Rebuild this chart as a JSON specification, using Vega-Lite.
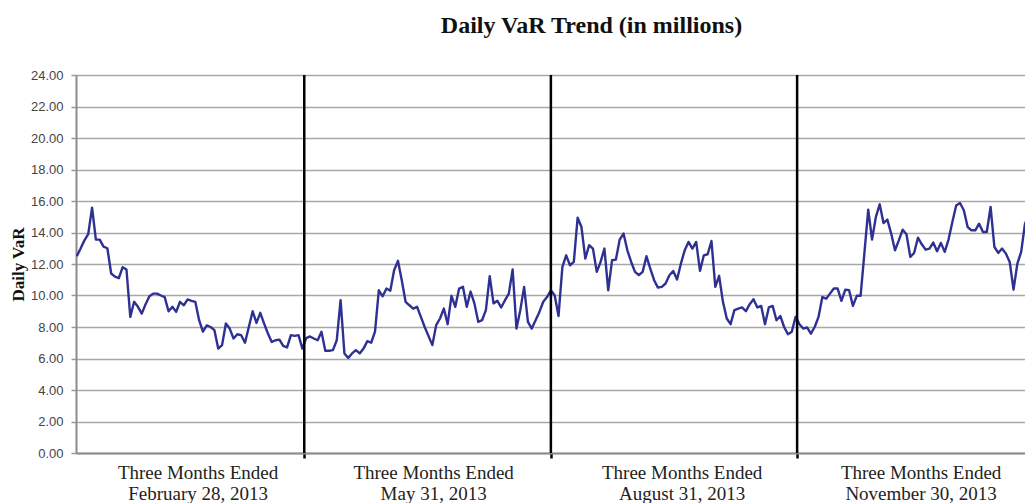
{
  "$schema": "https://vega.github.io/schema/vega-lite/v6.json",
  "autosize": {"type": "none"},
  "padding": {"left": 76, "top": 75, "right": 0, "bottom": 50},
  "width": 949,
  "height": 378,
  "background": "white",
  "title": {
    "text": "Daily VaR Trend (in millions)",
    "font": "Liberation Serif",
    "fontSize": 24,
    "fontWeight": "bold",
    "color": "#111111",
    "dx": 41,
    "offset": 31
  },
  "config": {"view": {"stroke": null}},
  "datasets": {
    "var": [
      {"day":1,"v":12.5},{"day":2,"v":12.98},{"day":3,"v":13.5},{"day":4,"v":13.9},{"day":5,"v":15.58},{"day":6,"v":13.55},{"day":7,"v":13.55},{"day":8,"v":13.1},{"day":9,"v":13.0},{"day":10,"v":11.4},
      {"day":11,"v":11.2},{"day":12,"v":11.1},{"day":13,"v":11.8},{"day":14,"v":11.65},{"day":15,"v":8.64},{"day":16,"v":9.6},{"day":17,"v":9.28},{"day":18,"v":8.85},{"day":19,"v":9.45},{"day":20,"v":9.95},
      {"day":21,"v":10.12},{"day":22,"v":10.12},{"day":23,"v":10.0},{"day":24,"v":9.9},{"day":25,"v":9.0},{"day":26,"v":9.28},{"day":27,"v":8.96},{"day":28,"v":9.6},{"day":29,"v":9.38},{"day":30,"v":9.75},
      {"day":31,"v":9.66},{"day":32,"v":9.6},{"day":33,"v":8.43},{"day":34,"v":7.7},{"day":35,"v":8.1},{"day":36,"v":8.0},{"day":37,"v":7.8},{"day":38,"v":6.63},{"day":39,"v":6.85},{"day":40,"v":8.22},
      {"day":41,"v":7.9},{"day":42,"v":7.27},{"day":43,"v":7.54},{"day":44,"v":7.48},{"day":45,"v":7.0},{"day":46,"v":8.0},{"day":47,"v":9.0},{"day":48,"v":8.26},{"day":49,"v":8.9},{"day":50,"v":8.22},
      {"day":51,"v":7.58},{"day":52,"v":7.05},{"day":53,"v":7.16},{"day":54,"v":7.2},{"day":55,"v":6.8},{"day":56,"v":6.7},{"day":57,"v":7.48},{"day":58,"v":7.44},{"day":59,"v":7.48},{"day":60,"v":6.63},
      {"day":61,"v":7.3},{"day":62,"v":7.4},{"day":63,"v":7.27},{"day":64,"v":7.16},{"day":65,"v":7.7},{"day":66,"v":6.49},{"day":67,"v":6.49},{"day":68,"v":6.53},{"day":69,"v":7.16},{"day":70,"v":9.7},
      {"day":71,"v":6.32},{"day":72,"v":6.04},{"day":73,"v":6.32},{"day":74,"v":6.53},{"day":75,"v":6.32},{"day":76,"v":6.63},{"day":77,"v":7.1},{"day":78,"v":7.0},{"day":79,"v":7.7},{"day":80,"v":10.33},
      {"day":81,"v":9.95},{"day":82,"v":10.44},{"day":83,"v":10.3},{"day":84,"v":11.6},{"day":85,"v":12.2},{"day":86,"v":10.97},{"day":87,"v":9.6},{"day":88,"v":9.38},{"day":89,"v":9.17},{"day":90,"v":9.28},
      {"day":91,"v":8.64},{"day":92,"v":8.0},{"day":93,"v":7.42},{"day":94,"v":6.85},{"day":95,"v":8.12},{"day":96,"v":8.54},{"day":97,"v":9.17},{"day":98,"v":8.18},{"day":99,"v":9.98},{"day":100,"v":9.28},
      {"day":101,"v":10.44},{"day":102,"v":10.55},{"day":103,"v":9.28},{"day":104,"v":10.25},{"day":105,"v":9.5},{"day":106,"v":8.33},{"day":107,"v":8.43},{"day":108,"v":9.07},{"day":109,"v":11.22},{"day":110,"v":9.5},
      {"day":111,"v":9.66},{"day":112,"v":9.24},{"day":113,"v":9.7},{"day":114,"v":10.12},{"day":115,"v":11.65},{"day":116,"v":7.9},{"day":117,"v":9.07},{"day":118,"v":10.55},{"day":119,"v":8.33},{"day":120,"v":7.9},
      {"day":121,"v":8.43},{"day":122,"v":8.96},{"day":123,"v":9.6},{"day":124,"v":9.9},{"day":125,"v":10.33},
      {"day":126,"v":10.0},{"day":127,"v":8.7},{"day":128,"v":11.8},{"day":129,"v":12.55},{"day":130,"v":11.92},{"day":131,"v":12.13},{"day":132,"v":14.94},{"day":133,"v":14.35},{"day":134,"v":12.34},{"day":135,"v":13.19},
      {"day":136,"v":12.98},{"day":137,"v":11.5},{"day":138,"v":12.13},{"day":139,"v":12.98},{"day":140,"v":10.33},{"day":141,"v":12.24},{"day":142,"v":12.28},{"day":143,"v":13.55},{"day":144,"v":13.93},{"day":145,"v":12.87},
      {"day":146,"v":12.13},{"day":147,"v":11.5},{"day":148,"v":11.29},{"day":149,"v":11.5},{"day":150,"v":12.49},{"day":151,"v":11.71},{"day":152,"v":10.97},{"day":153,"v":10.5},{"day":154,"v":10.55},{"day":155,"v":10.76},
      {"day":156,"v":11.29},{"day":157,"v":11.56},{"day":158,"v":11.01},{"day":159,"v":12.02},{"day":160,"v":12.87},{"day":161,"v":13.4},{"day":162,"v":12.98},{"day":163,"v":13.4},{"day":164,"v":11.56},{"day":165,"v":12.55},
      {"day":166,"v":12.62},{"day":167,"v":13.46},{"day":168,"v":10.55},{"day":169,"v":11.25},{"day":170,"v":9.6},{"day":171,"v":8.54},{"day":172,"v":8.18},{"day":173,"v":9.07},{"day":174,"v":9.17},{"day":175,"v":9.24},
      {"day":176,"v":9.0},{"day":177,"v":9.45},{"day":178,"v":9.76},{"day":179,"v":9.24},{"day":180,"v":9.34},{"day":181,"v":8.18},{"day":182,"v":9.24},{"day":183,"v":9.34},{"day":184,"v":8.43},{"day":185,"v":8.7},
      {"day":186,"v":8.0},{"day":187,"v":7.54},{"day":188,"v":7.7},{"day":189,"v":8.64},
      {"day":190,"v":8.18},{"day":191,"v":7.9},{"day":192,"v":7.97},{"day":193,"v":7.58},{"day":194,"v":8.0},{"day":195,"v":8.64},{"day":196,"v":9.9},{"day":197,"v":9.8},{"day":198,"v":10.12},{"day":199,"v":10.44},
      {"day":200,"v":10.44},{"day":201,"v":9.66},{"day":202,"v":10.37},{"day":203,"v":10.33},{"day":204,"v":9.34},{"day":205,"v":9.98},{"day":206,"v":9.98},{"day":207,"v":12.7},{"day":208,"v":15.45},{"day":209,"v":13.55},
      {"day":210,"v":14.99},{"day":211,"v":15.79},{"day":212,"v":14.6},{"day":213,"v":14.82},{"day":214,"v":13.93},{"day":215,"v":12.87},{"day":216,"v":13.5},{"day":217,"v":14.18},{"day":218,"v":13.89},{"day":219,"v":12.45},
      {"day":220,"v":12.7},{"day":221,"v":13.67},{"day":222,"v":13.25},{"day":223,"v":12.91},{"day":224,"v":12.98},{"day":225,"v":13.36},{"day":226,"v":12.81},{"day":227,"v":13.34},{"day":228,"v":12.77},{"day":229,"v":13.55},
      {"day":230,"v":14.67},{"day":231,"v":15.72},{"day":232,"v":15.87},{"day":233,"v":15.41},{"day":234,"v":14.35},{"day":235,"v":14.14},{"day":236,"v":14.14},{"day":237,"v":14.56},{"day":238,"v":14.03},{"day":239,"v":14.03},
      {"day":240,"v":15.62},{"day":241,"v":13.08},{"day":242,"v":12.7},{"day":243,"v":12.98},{"day":244,"v":12.66},{"day":245,"v":12.13},{"day":246,"v":10.37},{"day":247,"v":12.02},{"day":248,"v":12.77},{"day":249,"v":14.56},
      {"day":250,"v":15.1}
    ],
    "bounds": [{"day": 60.5}, {"day": 125}, {"day": 189.4}]
  },
  "layer": [
    {
      "data": {"name": "var"},
      "mark": {"type": "line", "color": "#2E3192", "strokeWidth": 2.4, "strokeJoin": "round", "clip": true},
      "encoding": {
        "x": {
          "field": "day", "type": "quantitative",
          "scale": {"domain": [0.8, 249], "nice": false, "zero": false},
          "axis": {
            "title": null,
            "values": [32.6, 60.5, 94.2, 125, 159.2, 189.4, 221.7],
            "labelExpr": "datum.value < 40 ? ['Three Months Ended', 'February 28, 2013'] : datum.value > 90 && datum.value < 100 ? ['Three Months Ended', 'May 31, 2013'] : datum.value > 150 && datum.value < 170 ? ['Three Months Ended', 'August 31, 2013'] : datum.value > 200 ? ['Three Months Ended', 'November 30, 2013'] : ''",
            "labelFont": "Liberation Serif",
            "labelFontSize": 19,
            "labelColor": "#222222",
            "labelLineHeight": 21,
            "labelBaseline": "top",
            "labelPadding": 5,
            "labelOverlap": false,
            "labelBound": false,
            "labelFlush": false,
            "tickSize": 5,
            "tickWidth": 2.5,
            "tickColor": "black",
            "tickOpacity": {"condition": {"test": "datum.value == 60.5 || datum.value == 125 || datum.value == 189.4", "value": 1}, "value": 0},
            "grid": false,
            "domainColor": "#8c8c8c",
            "domainWidth": 2
          }
        },
        "y": {
          "field": "v", "type": "quantitative",
          "scale": {"domain": [0, 24], "nice": false},
          "axis": {
            "title": "Daily VaR",
            "titleFont": "Liberation Serif",
            "titleFontSize": 17,
            "titleFontWeight": "bold",
            "titleColor": "#111111",
            "titlePadding": 3,
            "values": [0, 2, 4, 6, 8, 10, 12, 14, 16, 18, 20, 22, 24],
            "format": ".2f",
            "labelFont": "Liberation Sans",
            "labelFontSize": 13,
            "labelColor": "#444444",
            "labelPadding": 8,
            "tickSize": 5,
            "tickColor": "#999999",
            "tickWidth": 1.5,
            "grid": true,
            "gridColor": "#a8a8a8",
            "gridWidth": 1.6,
            "domainColor": "#8c8c8c",
            "domainWidth": 2
          }
        }
      }
    },
    {
      "data": {"name": "bounds"},
      "mark": {"type": "rule", "color": "black", "strokeWidth": 2.5},
      "encoding": {
        "x": {"field": "day", "type": "quantitative"}
      }
    }
  ]
}
